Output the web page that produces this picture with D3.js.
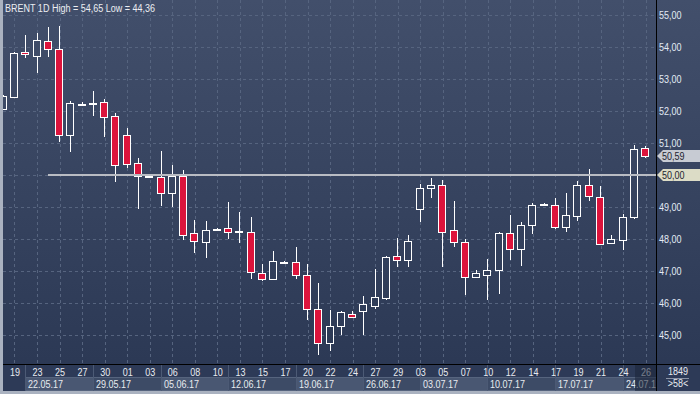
<!DOCTYPE html>
<html>
<head>
<meta charset="utf-8">
<script src="https://cdn.jsdelivr.net/npm/d3@7"></script>
<style>
  html, body { margin: 0; padding: 0; background: #2f3c59; }
  svg { display: block; }
  text { font-family: "Liberation Sans Narrow", "Arial Narrow", "Liberation Sans", Arial, sans-serif; font-size: 11px; }
</style>
</head>
<body>
<svg id="chart" width="700" height="394"></svg>
<script>
// ---- data ----
const title = "BRENT 1D High = 54,65 Low = 44,36";
const dates = ["18.05","19.05","22.05","23.05","24.05","25.05","26.05","27.05","29.05","30.05",
  "31.05","01.06","02.06","03.06","05.06","06.06","07.06","08.06","09.06","10.06",
  "12.06","13.06","14.06","15.06","16.06","17.06","19.06","20.06","21.06","22.06",
  "23.06","24.06","26.06","27.06","28.06","29.06","30.06","03.07","04.07","05.07",
  "06.07","07.07","08.07","10.07","11.07","12.07","13.07","14.07","15.07","17.07",
  "18.07","19.07","20.07","21.07","22.07","24.07","25.07","26.07"];
const open  = [52.07,52.45,53.84,53.73,54.18,53.93,51.26,52.20,52.22,52.27,
  51.84,51.25,50.37,49.97,49.93,49.45,49.96,48.18,47.92,48.28,
  48.33,48.23,48.21,46.93,46.74,47.28,47.27,46.87,45.80,44.76,
  45.27,45.67,45.74,45.92,46.17,47.46,47.35,48.95,49.58,49.68,
  48.27,47.91,46.82,46.88,47.02,48.19,47.68,48.43,49.06,49.05,
  48.37,48.72,49.69,49.30,47.87,47.97,48.68,50.83];
const high  = [52.50,53.84,54.38,54.44,54.63,54.65,52.32,52.27,52.62,52.37,
  51.93,51.46,50.52,50.00,50.75,50.31,50.16,48.59,48.56,48.35,
  49.16,48.84,48.69,47.22,47.63,47.32,47.75,47.22,46.63,45.78,
  45.76,45.75,46.22,47.06,47.47,48.02,48.13,49.72,49.90,49.84,
  49.19,47.99,47.03,47.38,48.23,48.75,48.53,49.12,49.14,49.29,
  49.43,49.81,50.19,49.66,48.13,48.78,50.95,50.91];
const low   = [52.02,52.45,53.67,53.20,53.70,51.04,50.73,52.17,51.84,51.20,
  49.79,50.21,48.94,49.92,49.03,49.01,47.97,47.57,47.42,48.25,
  48.00,47.88,46.76,46.69,46.74,47.22,46.76,45.46,44.36,44.51,
  45.01,45.56,45.01,45.80,46.10,47.13,47.13,48.54,49.29,47.13,
  47.76,46.25,46.82,46.09,46.28,47.34,47.16,48.16,49.02,48.32,
  48.23,48.57,49.20,47.83,47.87,47.66,48.63,50.52];
const close = [52.47,53.80,53.77,54.21,53.95,51.26,52.24,52.22,52.24,51.82,
  50.30,50.33,49.98,49.95,49.45,49.96,48.13,47.93,48.27,48.30,
  48.23,48.25,46.96,46.74,47.30,47.26,46.87,45.80,44.76,45.28,
  45.71,45.57,45.96,46.18,47.43,47.33,47.94,49.58,49.69,48.23,
  47.90,46.82,46.93,47.02,48.19,47.68,48.43,49.05,49.08,48.38,
  48.74,49.69,49.34,47.83,48.00,48.70,50.81,50.59];
const yTicks = [45,46,47,48,49,50,51,52,53,54,55];
const weekStarts = ["22.05","29.05","05.06","12.06","19.06","26.06","03.07","10.07","17.07","24.07"];
const weekLabels = ["22.05.17","29.05.17","05.06.17","12.06.17","19.06.17","26.06.17","03.07.17","10.07.17","17.07.17","24.07.1"];
const levelLine = 50.00;
const lastPrice = 50.59;
const footTop = "1849";
const footBottom = ">58<";

// ---- layout ----
const W = 700, H = 394;
const plotL = 3, plotR = 656, plotB = 364, frameB = 391;
const NARROW = 0.82;

// condense text horizontally (reference uses a narrow face)
function narrow(sel) {
  sel.each(function() {
    const t = d3.select(this);
    const tx = +t.attr("x") || 0, ty = +t.attr("y") || 0;
    t.attr("x", 0).attr("y", 0)
     .attr("transform", `translate(${tx},${ty}) scale(${NARROW},1)`);
  });
  return sel;
}

const svg = d3.select("#chart");
const defs = svg.append("defs");
const grad = defs.append("linearGradient").attr("id","bg")
  .attr("gradientUnits","userSpaceOnUse").attr("x1",0).attr("y1",0).attr("x2",0).attr("y2",H);
grad.append("stop").attr("offset",0).attr("stop-color","#424f6b");
grad.append("stop").attr("offset",1).attr("stop-color","#2a3753");
defs.append("clipPath").attr("id","plotClip").append("rect")
  .attr("x",plotL).attr("y",0).attr("width",plotR-plotL).attr("height",plotB);
defs.append("clipPath").attr("id","axisClip").append("rect")
  .attr("x",plotL).attr("y",plotB).attr("width",plotR-plotL).attr("height",frameB-plotB);

svg.append("rect").attr("width",W).attr("height",H).attr("fill","url(#bg)");

const x = d3.scalePoint().domain(dates).range([2.73, 645.1]);
const y = d3.scaleLinear().domain([45,55]).range([335,15]);
const ticks = dates.filter((d,i) => i % 2 === 1);

// grid
const plot = svg.append("g").attr("clip-path","url(#plotClip)");
plot.append("g").selectAll("line").data(yTicks).join("line")
  .attr("x1",plotL).attr("x2",plotR)
  .attr("y1",d => Math.round(y(d))+0.5).attr("y2",d => Math.round(y(d))+0.5)
  .attr("stroke","#56647f").attr("stroke-dasharray","3,3");
plot.append("g").selectAll("line").data(ticks).join("line")
  .attr("x1",d => Math.round(x(d)+0.5)+0.5).attr("x2",d => Math.round(x(d)+0.5)+0.5)
  .attr("y1",0).attr("y2",plotB)
  .attr("stroke","#56647f").attr("stroke-dasharray","3,3");

// candles
const idx = d3.range(dates.length);
const cg = plot.append("g");
cg.selectAll("line.wick").data(idx).join("line").attr("class","wick")
  .attr("x1",i => Math.round(x(dates[i]))+0.5).attr("x2",i => Math.round(x(dates[i]))+0.5)
  .attr("y1",i => Math.round(y(high[i]))).attr("y2",i => Math.round(y(low[i])))
  .attr("stroke","#ffffff").attr("stroke-width",1);
cg.selectAll("rect.body").data(idx).join("rect").attr("class","body")
  .attr("x",i => Math.round(x(dates[i]))-3.5)
  .attr("width",7)
  .attr("y",i => Math.round(y(Math.max(open[i],close[i])))+0.5)
  .attr("height",i => Math.max(1, Math.round(y(Math.min(open[i],close[i]))) - Math.round(y(Math.max(open[i],close[i])))))
  .attr("fill",i => close[i] < open[i] ? "#dc143c" : "url(#bg)")
  .attr("stroke","#ffffff").attr("stroke-width",1);

// 50 level line
plot.append("line")
  .attr("x1",48).attr("x2",plotR)
  .attr("y1",y(levelLine)).attr("y2",y(levelLine))
  .attr("stroke","#b9bcc3").attr("stroke-width",2);

// title
narrow(svg.append("text").attr("x",5).attr("y",12).attr("fill","#eceef2").text(title));

// right axis labels (the level tag covers its own tick label)
const fmt = v => d3.format(".2f")(v).replace(".", ",");
narrow(svg.append("g").selectAll("text").data(yTicks.filter(v => v !== levelLine)).join("text")
  .attr("x",659).attr("y",d => y(d)+4)
  .attr("fill","#e2eaf5").text(d => fmt(d)));

// price tags
function tag(v, fill) {
  const yy = Math.round(y(v));
  svg.append("path")
    .attr("d",`M657,${yy} L663,${yy-6} L700,${yy-6} L700,${yy+6} L663,${yy+6} Z`)
    .attr("fill",fill);
  narrow(svg.append("text").attr("x",662).attr("y",yy+4).attr("fill","#1e2430").text(fmt(v)));
}
tag(lastPrice, "#c7cbd3");
tag(levelLine, "#dcdcc6");

// bottom axis area
const ax = svg.append("g");
ax.append("rect").attr("x",plotL).attr("y",plotB).attr("width",W-plotL).attr("height",frameB-plotB).attr("fill","#2d3a57");
const axc = ax.append("g").attr("clip-path","url(#axisClip)");
const wx = weekStarts.map(d => x(d));
axc.selectAll("rect.week").data(weekStarts).join("rect").attr("class","week")
  .attr("x",(d,i) => Math.round(wx[i])+0.5)
  .attr("y",377.5)
  .attr("width",(d,i) => (i < wx.length-1 ? Math.round(wx[i+1]) : plotR+40) - Math.round(wx[i]))
  .attr("height",13)
  .attr("fill",(d,i) => i % 2 === 0 ? "#495772" : "#3d4b66")
  .attr("stroke","#56647e");
axc.selectAll("line.sep").data(weekStarts).join("line").attr("class","sep")
  .attr("x1",(d,i) => Math.round(wx[i])+0.5).attr("x2",(d,i) => Math.round(wx[i])+0.5)
  .attr("y1",plotB).attr("y2",frameB)
  .attr("stroke","#4c5a75");
narrow(axc.selectAll("text.day").data(ticks).join("text").attr("class","day")
  .attr("x",d => x(d)+1).attr("y",376).attr("text-anchor","middle")
  .attr("fill","#e8ebf0").text(d => d.slice(0,2)));
narrow(axc.selectAll("text.week").data(weekLabels).join("text").attr("class","week")
  .attr("x",(d,i) => Math.round(wx[i])+3).attr("y",388)
  .attr("fill","#e8ebf0").text(d => d));
// shaded current-bar zone
axc.append("rect").attr("x",635).attr("y",plotB).attr("width",plotR-635).attr("height",frameB-plotB)
  .attr("fill","#1c2538").attr("opacity",0.55);

// axis lines
svg.append("line").attr("x1",plotL).attr("x2",W).attr("y1",plotB+0.5).attr("y2",plotB+0.5).attr("stroke","#000");
svg.append("line").attr("x1",plotR+0.5).attr("x2",plotR+0.5).attr("y1",0).attr("y2",frameB).attr("stroke","#000");

// bottom-right counters
narrow(svg.append("text").attr("x",678).attr("y",375).attr("text-anchor","middle").attr("fill","#e8ebf0").text(footTop));
svg.append("line").attr("x1",666).attr("x2",689).attr("y1",378.5).attr("y2",378.5).attr("stroke","#8a93a6");
narrow(svg.append("text").attr("x",678).attr("y",387).attr("text-anchor","middle").attr("fill","#e8ebf0").text(footBottom));

// window frame
svg.append("rect").attr("x",0).attr("y",0).attr("width",plotL).attr("height",H).attr("fill","#aab2c0");
svg.append("rect").attr("x",0).attr("y",frameB).attr("width",W).attr("height",H-frameB).attr("fill","#aab2c0");
</script>
</body>
</html>
